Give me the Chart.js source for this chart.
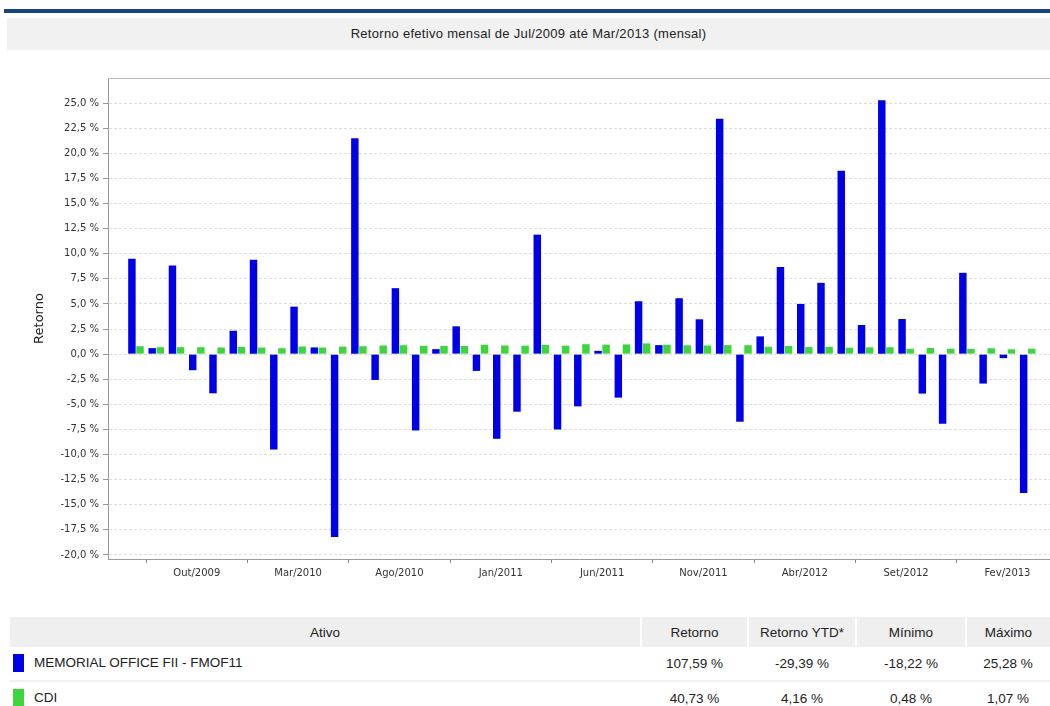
<!DOCTYPE html>
<html>
<head>
<meta charset="utf-8">
<script src="https://cdn.jsdelivr.net/npm/chart.js@4/dist/chart.umd.min.js"></script>
<style>
  body { margin: 0; background: #fff; font-family: "Liberation Sans", Arial, sans-serif; color: #222; }
  #page { position: relative; width: 1050px; height: 706px; overflow: hidden; }
  #topbar { position: absolute; left: 4px; right: 0; top: 9px; height: 4px; background: #15467a; }
  #titlebar { position: absolute; left: 7px; right: 0; top: 18px; height: 32px; background: #f1f1f1;
              text-align: center; line-height: 32px; font-size: 13px; letter-spacing: 0.3px; color: #222; }
  #chartbox { position: absolute; left: 0; top: 55px; }
  table { position: absolute; left: 8px; top: 617px; width: 1042px; border-collapse: collapse;
          font-size: 13.5px; color: #222; }
  th { background: #efefef; font-weight: normal; height: 30px; border-left: 2px solid #fff; padding: 0; }
  td { height: 33px; padding: 0 8px; border-bottom: 2px solid #f1f1f1; }
  td.num { text-align: center; }
  .sw { display: inline-block; width: 11px; height: 18px; vertical-align: middle; margin: -2px 10px 0 -4px; }
</style>
</head>
<body>
<div id="page">
  <div id="topbar"></div>
  <div id="titlebar">Retorno efetivo mensal de Jul/2009 até Mar/2013 (mensal)</div>
  <div id="chartbox"><canvas id="mychart" width="1050" height="535"></canvas></div>
  <table>
    <thead>
      <tr>
        <th style="width:630px">Ativo</th>
        <th style="width:105px">Retorno</th>
        <th style="width:106px">Retorno YTD*</th>
        <th style="width:108px">Mínimo</th>
        <th>Máximo</th>
      </tr>
    </thead>
    <tbody id="tbody"></tbody>
  </table>
</div>

<script>
// monthly returns, Jul/2009 .. Mar/2013 (in %)
var months = [
  'Jul/2009','Ago/2009','Set/2009','Out/2009','Nov/2009','Dez/2009',
  'Jan/2010','Fev/2010','Mar/2010','Abr/2010','Mai/2010','Jun/2010','Jul/2010','Ago/2010','Set/2010','Out/2010','Nov/2010','Dez/2010',
  'Jan/2011','Fev/2011','Mar/2011','Abr/2011','Mai/2011','Jun/2011','Jul/2011','Ago/2011','Set/2011','Out/2011','Nov/2011','Dez/2011',
  'Jan/2012','Fev/2012','Mar/2012','Abr/2012','Mai/2012','Jun/2012','Jul/2012','Ago/2012','Set/2012','Out/2012','Nov/2012','Dez/2012',
  'Jan/2013','Fev/2013','Mar/2013'
];

var fmof11 = [
  9.5, 0.6, 8.83, -1.6, -3.9, 2.33,
  9.4, -9.5, 4.73, 0.67, -18.22, 21.5, -2.57, 6.57, -7.6, 0.5, 2.77, -1.67,
  -8.43, -5.73, 11.9, -7.5, -5.2, 0.33, -4.33, 5.27, 0.9, 5.57, 3.47, 23.43,
  -6.73, 1.77, 8.67, 5.0, 7.1, 18.27, 2.9, 25.28, 3.5, -3.93, -6.93, 8.1,
  -2.93, -0.4, -13.83
];

var cdi = [
  0.79, 0.69, 0.69, 0.69, 0.66, 0.72,
  0.66, 0.59, 0.76, 0.66, 0.75, 0.79, 0.86, 0.89, 0.84, 0.81, 0.81, 0.93,
  0.86, 0.84, 0.92, 0.84, 0.99, 0.95, 0.97, 1.07, 0.94, 0.88, 0.86, 0.90,
  0.89, 0.74, 0.81, 0.70, 0.73, 0.64, 0.68, 0.69, 0.54, 0.61, 0.54, 0.53,
  0.59, 0.48, 0.54
];

// x axis labels every 5 months starting at Out/2009
var xTickIndex = [3, 8, 13, 18, 23, 28, 33, 38, 43];
var yTicks = [-20, -17.5, -15, -12.5, -10, -7.5, -5, -2.5, 0, 2.5, 5, 7.5, 10, 12.5, 15, 17.5, 20, 22.5, 25];

// summary table
var seriesNames = ['MEMORIAL OFFICE FII - FMOF11', 'CDI'];
var seriesColors = ['#0000e8', '#3cd63c'];
var summary = [
  ['107,59 %', '-29,39 %', '-18,22 %', '25,28 %'],
  ['40,73 %', '4,16 %', '0,48 %', '1,07 %']
];

(function() {

  var tbody = document.getElementById('tbody');
  seriesNames.forEach((name, i) => {
    var tr = document.createElement('tr');
    var html = '<td><span class="sw" style="background:' + seriesColors[i] + '"></span>' + name + '</td>';
    summary[i].forEach((v) => { html += '<td class="num">' + v + '</td>'; });
    tr.innerHTML = html;
    tbody.appendChild(tr);
  });

  function points(arr) {
    return arr.map((v, i) => ({ x: i, y: v }));
  }

  function pct(v) {
    return v.toFixed(1).replace('.', ',') + ' %';
  }

  // thin line along the top of the plot area
  var topLine = {
    id: 'topLine',
    afterDraw(chart) {
      var a = chart.chartArea, c = chart.ctx;
      c.save();
      c.strokeStyle = '#bbb';
      c.lineWidth = 1;
      c.beginPath();
      c.moveTo(a.left, a.top + 0.5);
      c.lineTo(a.right, a.top + 0.5);
      c.stroke();
      c.restore();
    }
  };

  var context = document.getElementById('mychart').getContext('2d');
  var chart = new Chart(context, {
    type: 'bar',
    data: {
      datasets: [
        { label: seriesNames[0], backgroundColor: seriesColors[0], data: points(fmof11) },
        { label: seriesNames[1], backgroundColor: seriesColors[1], data: points(cdi) }
      ]
    },
    plugins: [topLine],
    options: {
      responsive: false,
      animation: false,
      devicePixelRatio: 1,
      categoryPercentage: 0.8,
      barPercentage: 0.92,
      layout: { padding: { left: 32, top: 23, right: 0, bottom: 0 } },
      plugins: {
        legend: { display: false },
        tooltip: { enabled: false }
      },
      scales: {
        x: {
          type: 'linear',
          offset: false,
          min: -1.38,
          max: 45.1,
          afterBuildTicks: (s) => { s.ticks = xTickIndex.map((v) => ({ value: v })); },
          afterFit: (s) => { s.height = 31; },
          ticks: {
            autoSkip: false,
            maxRotation: 0,
            color: '#333',
            padding: 4,
            font: { family: 'DejaVu Sans', size: 10 },
            callback: (v) => months[v]
          },
          grid: { drawOnChartArea: false, tickLength: 4, tickColor: '#888' },
          border: { color: '#999' }
        },
        y: {
          min: -20.4,
          max: 27.5,
          afterBuildTicks: (s) => { s.ticks = yTicks.map((v) => ({ value: v })); },
          afterFit: (s) => { s.width = 76; },
          title: {
            display: true,
            text: 'Retorno',
            color: '#222',
            font: { family: 'DejaVu Sans', size: 13 },
            padding: { top: 0, bottom: 0 }
          },
          ticks: {
            color: '#333',
            padding: 4,
            font: { family: 'DejaVu Sans', size: 10 },
            callback: (v) => pct(v)
          },
          grid: { color: '#dcdcdc', tickLength: 5, tickColor: '#999' },
          border: { color: '#999', dash: [3, 2] }
        }
      }
    }
  });

})();
</script>
</body>
</html>
